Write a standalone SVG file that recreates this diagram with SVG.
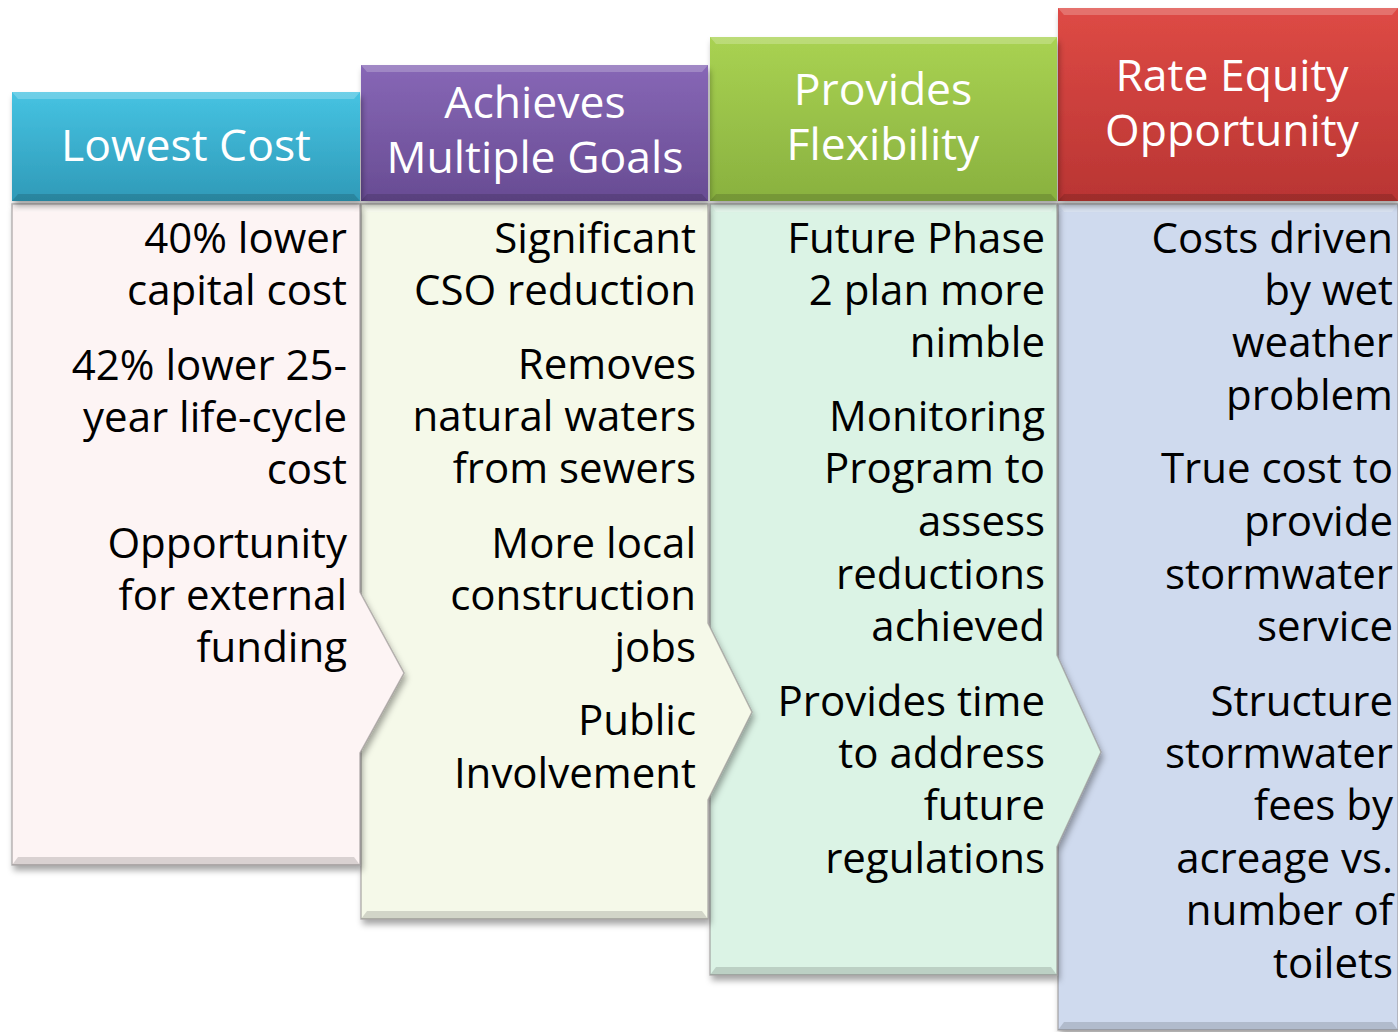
<svg xmlns="http://www.w3.org/2000/svg" width="1398" height="1032" viewBox="0 0 1398 1032">
<defs>
<linearGradient id="gC" x1="0" y1="0" x2="0" y2="1"><stop offset="0" stop-color="#46c3e2"/><stop offset="1" stop-color="#2f9ab8"/></linearGradient>
<linearGradient id="gP" x1="0" y1="0" x2="0" y2="1"><stop offset="0" stop-color="#8767b6"/><stop offset="1" stop-color="#684c93"/></linearGradient>
<linearGradient id="gG" x1="0" y1="0" x2="0" y2="1"><stop offset="0" stop-color="#a9d252"/><stop offset="1" stop-color="#89b13f"/></linearGradient>
<linearGradient id="gR" x1="0" y1="0" x2="0" y2="1"><stop offset="0" stop-color="#de4a45"/><stop offset="1" stop-color="#b93533"/></linearGradient>
<filter id="sh" x="-5%" y="-5%" width="115%" height="115%"><feDropShadow dx="2" dy="5" stdDeviation="3" flood-color="#000" flood-opacity="0.35"/></filter>
<style>
.hd{font-family:"Open Sans","Noto Sans","DejaVu Sans",sans-serif;font-size:44.5px;fill:#fff;text-anchor:middle}
.bt{font-family:"Open Sans","Noto Sans","DejaVu Sans",sans-serif;font-size:42px;fill:#000;text-anchor:end}
.bodyedge{stroke:#8f8a8a;stroke-width:1.5;stroke-opacity:0.6}
.hl{fill:#fff;opacity:0.22}
.dk{fill:#000;opacity:0.14}
</style>
</defs>
<rect width="1398" height="1032" fill="#fff"/>

<g id="col4">
<polygon points="1058,204 1398,204 1398,1030 1058,1030" fill="#cfdaee" class="bodyedge" filter="url(#sh)"/>
<polygon points="1058,204 1398,204 1392,212 1064,212" class="hl"/>
<polygon points="1058,1030 1398,1030 1392,1022 1064,1022" class="dk"/>
<rect x="1058" y="8" width="340" height="193" fill="url(#gR)" filter="url(#sh)"/>
<polygon points="1058,8 1398,8 1392,15 1064,15" class="hl"/>
<polygon points="1058,201 1398,201 1392,194 1064,194" class="dk"/>
<text class="hd" x="1232" y="91">Rate Equity</text>
<text class="hd" x="1232" y="146">Opportunity</text>
<text class="bt" x="1393" y="253">Costs driven</text>
<text class="bt" x="1393" y="305">by wet</text>
<text class="bt" x="1393" y="357">weather</text>
<text class="bt" x="1393" y="410">problem</text>
<text class="bt" x="1393" y="483">True cost to</text>
<text class="bt" x="1393" y="536">provide</text>
<text class="bt" x="1393" y="589">stormwater</text>
<text class="bt" x="1393" y="641">service</text>
<text class="bt" x="1393" y="716">Structure</text>
<text class="bt" x="1393" y="768">stormwater</text>
<text class="bt" x="1393" y="820">fees by</text>
<text class="bt" x="1393" y="873">acreage vs.</text>
<text class="bt" x="1393" y="925">number of</text>
<text class="bt" x="1393" y="978">toilets</text>
</g>

<g id="col3">
<polygon points="710,204 1057,204 1057,655 1101,752 1057,847 1057,975 710,975" fill="#dbf3e5" class="bodyedge" filter="url(#sh)"/>
<polygon points="710,204 1057,204 1051,212 716,212" class="hl"/>
<polygon points="710,975 1057,975 1051,967 716,967" class="dk"/>
<rect x="710" y="37" width="347" height="164" fill="url(#gG)" filter="url(#sh)"/>
<polygon points="710,37 1057,37 1051,44 716,44" class="hl"/>
<polygon points="710,201 1057,201 1051,194 716,194" class="dk"/>
<text class="hd" x="883" y="105">Provides</text>
<text class="hd" x="883" y="160">Flexibility</text>
<text class="bt" x="1045" y="253">Future Phase</text>
<text class="bt" x="1045" y="305">2 plan more</text>
<text class="bt" x="1045" y="357">nimble</text>
<text class="bt" x="1045" y="431">Monitoring</text>
<text class="bt" x="1045" y="483">Program to</text>
<text class="bt" x="1045" y="536">assess</text>
<text class="bt" x="1045" y="589">reductions</text>
<text class="bt" x="1045" y="641">achieved</text>
<text class="bt" x="1045" y="716">Provides time</text>
<text class="bt" x="1045" y="768">to address</text>
<text class="bt" x="1045" y="820">future</text>
<text class="bt" x="1045" y="873">regulations</text>
</g>

<g id="col2">
<polygon points="361,204 708,204 708,623 752,712 708,800 708,919 361,919" fill="#f5f9e9" class="bodyedge" filter="url(#sh)"/>
<polygon points="361,204 708,204 702,212 367,212" class="hl"/>
<polygon points="361,919 708,919 702,911 367,911" class="dk"/>
<rect x="361" y="65" width="347" height="136" fill="url(#gP)" filter="url(#sh)"/>
<polygon points="361,65 708,65 702,72 367,72" class="hl"/>
<polygon points="361,201 708,201 702,194 367,194" class="dk"/>
<text class="hd" x="535" y="118">Achieves</text>
<text class="hd" x="535" y="173">Multiple Goals</text>
<text class="bt" x="696" y="253">Significant</text>
<text class="bt" x="696" y="305">CSO reduction</text>
<text class="bt" x="696" y="379">Removes</text>
<text class="bt" x="696" y="431">natural waters</text>
<text class="bt" x="696" y="483">from sewers</text>
<text class="bt" x="696" y="558">More local</text>
<text class="bt" x="696" y="610">construction</text>
<text class="bt" x="696" y="662">jobs</text>
<text class="bt" x="696" y="735">Public</text>
<text class="bt" x="696" y="788">Involvement</text>
</g>

<g id="col1">
<polygon points="12,204 360,204 360,592 404,673 360,753 360,865 12,865" fill="#fdf4f4" class="bodyedge" filter="url(#sh)"/>
<polygon points="12,204 360,204 354,212 18,212" class="hl"/>
<polygon points="12,865 360,865 354,857 18,857" class="dk"/>
<rect x="12" y="92" width="348" height="109" fill="url(#gC)" filter="url(#sh)"/>
<polygon points="12,92 360,92 354,99 18,99" class="hl"/>
<polygon points="12,201 360,201 354,194 18,194" class="dk"/>
<text class="hd" x="186" y="161">Lowest Cost</text>
<text class="bt" x="347" y="253">40% lower</text>
<text class="bt" x="347" y="305">capital cost</text>
<text class="bt" x="347" y="380">42% lower 25-</text>
<text class="bt" x="347" y="432">year life-cycle</text>
<text class="bt" x="347" y="484">cost</text>
<text class="bt" x="347" y="558">Opportunity</text>
<text class="bt" x="347" y="610">for external</text>
<text class="bt" x="347" y="662">funding</text>
</g>

<g id="connectors"></g>
</svg>
